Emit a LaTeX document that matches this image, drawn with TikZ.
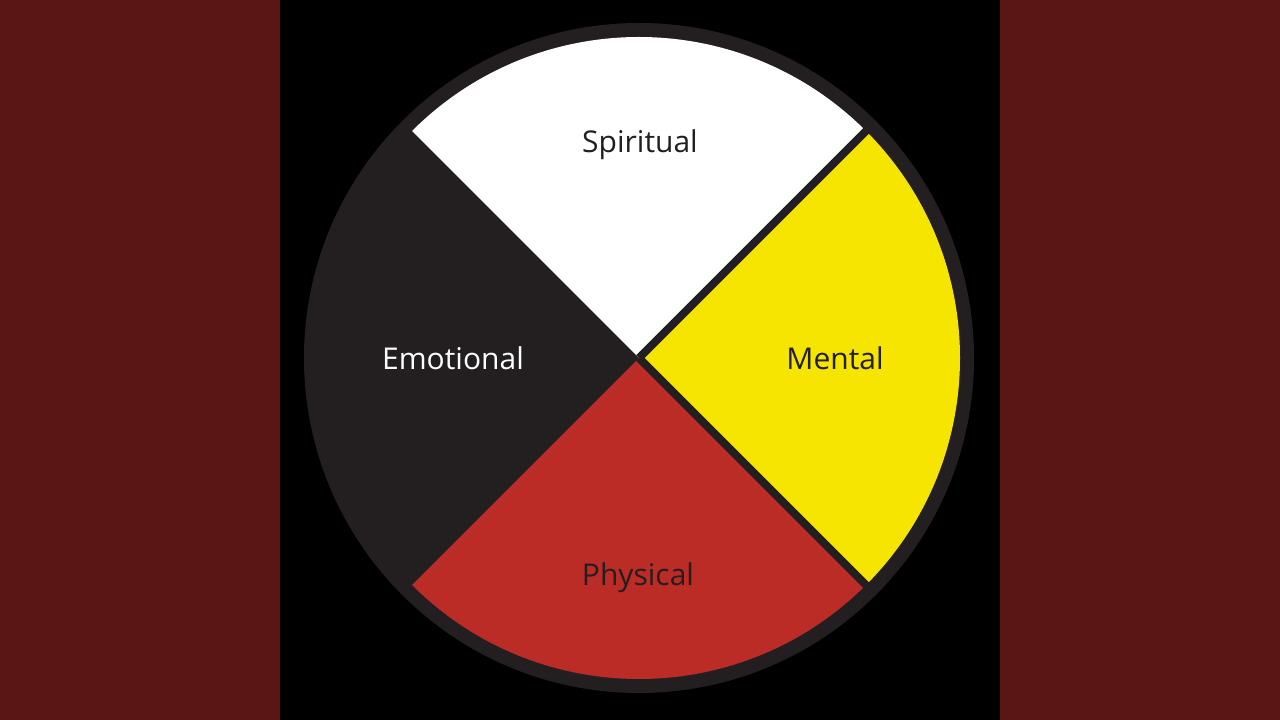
\documentclass[tikz,border=0pt]{standalone}
\usepackage{fontspec}
\setmainfont{Open Sans}
\usetikzlibrary{positioning}
\definecolor{bandred}{HTML}{5A1515}
\definecolor{ringgray}{HTML}{231F20}
\definecolor{wheelyellow}{HTML}{F6E500}
\definecolor{wheelred}{HTML}{BC2C26}
\tikzset{wheeltext/.style={font=\fontsize{30}{35}\selectfont,anchor=base}}

\begin{document}
\begin{tikzpicture}[x=1pt,y=1pt]
\useasboundingbox (0,0) rectangle (1280,720);
\fill[bandred] (0,0) rectangle (1280,720);
\fill[black] (280,0) rectangle (1000,720);
\coordinate (c) at (639,362);
\fill[ringgray] (c) circle (335);
\foreach \a/\col in {45/white,-45/wheelyellow,-135/wheelred} {
\fill[\col] (c) -- ++(\a:321) arc (\a:\a+90:321) -- cycle;
}
\foreach \a in {45,-45} {
\draw[ringgray,line width=8] (c) -- ++(\a:322);
}
\node[wheeltext,text=ringgray] (spiritual) at (640,567) {Spiritual};
\node[wheeltext,text=white] (emotional) at (453,350) {Emotional};
\node[wheeltext,text=ringgray] (mental) at (835,350) {Mental};
\node[wheeltext,text=ringgray] (physical) at (638,134) {Physical};
\end{tikzpicture}
\end{document}
